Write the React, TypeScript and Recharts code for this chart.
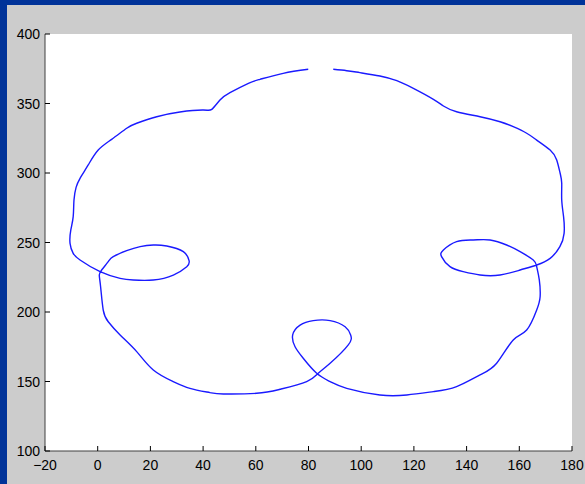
// 닫힌 곡선(고양이 얼굴 모양) 궤적을 MATLAB 스타일로 그리는 차트
import { CartesianGrid, Line, LineChart, XAxis, YAxis } from 'recharts'

const xs = [
  79.9, 70.4, 61.6, 57.2, 50.2, 46.4, 43.3, 40.1, 31.2, 22.4, 14.8, 11, 5.3, 0.2, -3.6, -6.7,
  -8.2, -9.0, -9.3, -10.2, -10.5, -9.3, -6.7, 0.9, 8.5, 13.5, 21.1, 28.7, 33.8, 34.7, 32.5,
  26.2, 21.1, 16.1, 11, 5.9, 4, 1.5, 0.6, 1.1, 2.1, 4, 8.5, 14.8, 21.1, 28.7, 35, 42.6, 47.7,
  60.3, 69.2, 79.3, 83.7, 88.2, 95.1, 96, 93.9, 88.2, 81.8, 76.8, 74, 74.9, 78, 83.1, 88.2,
  94.5, 107.1, 117.3, 127.4, 136.2, 145.1, 151.4, 157.7, 162.8, 166.6, 167.9, 167.6, 166.6,
  165.3, 160.3, 155.2, 148.9, 142.5, 136.2, 131.2, 130.5, 133.7, 138.7, 145.1, 152.7, 160.3,
  166.6, 171.7, 175.4, 177, 176.8, 176.1, 176.1, 175.5, 174.2, 171.7, 166.6, 162.8, 157.7,
  152.7, 145.1, 136.2, 131.2, 127.4, 119.8, 113.5, 107.1, 99.5, 94.5, 89.4,
]
const ys = [
  374.6, 371.7, 367.4, 364.5, 357.8, 352.5, 345.8, 345.3, 343.9, 340.5, 335.8, 332.2, 324.2,
  316.5, 305.8, 296.2, 289.7, 280.6, 268.6, 259, 249.4, 242.2, 237.4, 229, 224.2, 223, 223,
  226.6, 232.6, 236.7, 243.4, 247.5, 248.2, 247, 244.1, 239.8, 236.2, 230.2, 226.6, 218.2,
  201.4, 193, 183.5, 171.5, 158.3, 149.9, 145.1, 142, 141, 141.5, 144.4, 149.9, 155.9, 163.1,
  176.3, 183.5, 189.4, 193.8, 193.8, 190.6, 183.5, 175, 166.7, 155.9, 149.9, 145.1, 140.3,
  140.3, 142.7, 146.3, 154.7, 163.1, 179.9, 187, 201.4, 211, 223, 232.6, 237.4, 243.4, 248.2,
  251.8, 251.8, 250.6, 244.6, 239.8, 232.6, 229, 226.6, 226.6, 230.2, 233.8, 238.6, 247,
  256.6, 268.6, 280.6, 292.6, 299.8, 309.4, 316.5, 323.7, 328.6, 333.3, 336.9, 340.5, 344.1,
  348.2, 353, 360.9, 366.4, 369.8, 372.2, 373.6, 374.6,
]
const xTicks = [-20, 0, 20, 40, 60, 80, 100, 120, 140, 160, 180]
const yTicks = [100, 150, 200, 250, 300, 350, 400]

const data = xs.map((x, i) => ({ x, y: ys[i] }))

const FONT = '"Liberation Sans", Arial, sans-serif'
const TICK_LEN = 5

const fmt = (v: number) => (v < 0 ? '\u2212' + Math.abs(v) : String(v))

function BottomTick({ x, y, payload }: any) {
  return (
    <g>
      <line x1={x} x2={x} y1={y} y2={y - TICK_LEN} stroke="#000" />
      <text x={x} y={y + 19} textAnchor="middle" fontSize={14} fontFamily={FONT} fill="#000">
        {fmt(payload.value)}
      </text>
    </g>
  )
}

function LeftTick({ x, y, payload }: any) {
  return (
    <g>
      <line x1={x} x2={x + TICK_LEN} y1={y} y2={y} stroke="#000" />
      <text x={x - 5} y={y + 5} textAnchor="end" fontSize={14} fontFamily={FONT} fill="#000">
        {fmt(payload.value)}
      </text>
    </g>
  )
}

function TopTick({ x, y }: any) {
  return <line x1={x} x2={x} y1={y} y2={y + TICK_LEN} stroke="#000" />
}

function RightTick({ x, y }: any) {
  return <line x1={x} x2={x - TICK_LEN} y1={y} y2={y} stroke="#000" />
}

export default function App() {
  return (
    <div
      style={{
        position: 'absolute',
        left: 0,
        top: 0,
        width: 585,
        height: 484,
        background: '#cccccc',
        overflow: 'hidden',
      }}
    >
      <LineChart
        width={585}
        height={484}
        data={data}
        margin={{ top: 34, right: 13, bottom: 0, left: 0 }}
      >
        <CartesianGrid horizontal={false} vertical={false} fill="#ffffff" />
        <XAxis
          xAxisId="b"
          dataKey="x"
          type="number"
          domain={[-20, 180]}
          ticks={xTicks}
          height={33}
          tickSize={0}
          tickMargin={0}
          tickLine={false}
          axisLine={{ stroke: '#404040' }}
          tick={<BottomTick />}
          interval={0}
        />
        <XAxis
          xAxisId="t"
          orientation="top"
          type="number"
          domain={[-20, 180]}
          ticks={xTicks}
          height={0}
          tickSize={0}
          tickMargin={0}
          tickLine={false}
          axisLine={{ stroke: '#404040' }}
          tick={<TopTick />}
          interval={0}
        />
        <YAxis
          yAxisId="l"
          dataKey="y"
          type="number"
          domain={[100, 400]}
          ticks={yTicks}
          width={45}
          tickSize={0}
          tickMargin={0}
          tickLine={false}
          axisLine={{ stroke: '#404040' }}
          tick={<LeftTick />}
          interval={0}
        />
        <YAxis
          yAxisId="r"
          orientation="right"
          type="number"
          domain={[100, 400]}
          ticks={yTicks}
          width={0}
          tickSize={0}
          tickMargin={0}
          tickLine={false}
          axisLine={{ stroke: '#404040' }}
          tick={<RightTick />}
          interval={0}
        />
        <Line
          xAxisId="b"
          yAxisId="l"
          type="natural"
          dataKey="y"
          stroke="#1a1aff"
          strokeWidth={1.4}
          dot={false}
          activeDot={false}
          isAnimationActive={false}
        />
      </LineChart>
      <div style={{ position: 'absolute', left: 0, top: 0, width: 7, height: 484, background: '#003399' }} />
      <div style={{ position: 'absolute', left: 0, top: 0, width: 585, height: 5, background: '#003399' }} />
    </div>
  )
}
